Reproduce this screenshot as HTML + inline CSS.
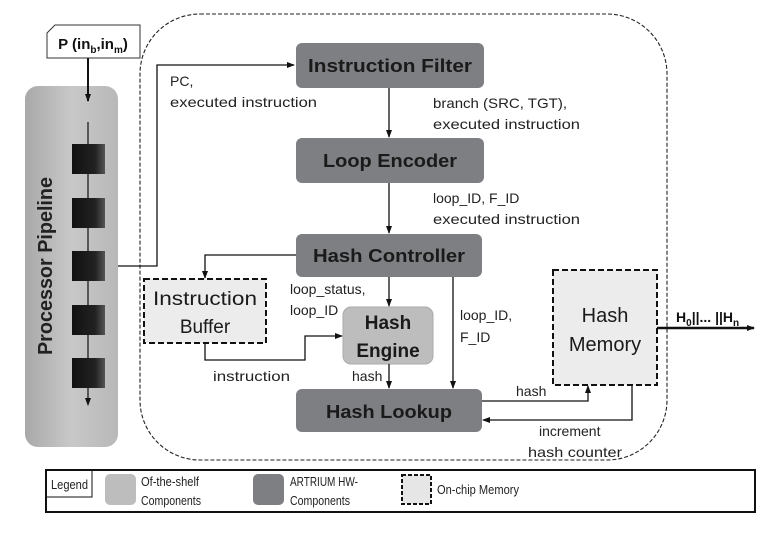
<!DOCTYPE html>
<html><head><meta charset="utf-8"><style>
html,body{margin:0;padding:0;background:#fff;}
svg{display:block;font-family:"Liberation Sans","DejaVu Sans",sans-serif;}
</style></head><body>
<svg width="775" height="536" viewBox="0 0 775 536" xmlns="http://www.w3.org/2000/svg">
<defs>
<marker id="a" markerWidth="8" markerHeight="8" refX="7" refY="4" orient="auto" markerUnits="userSpaceOnUse"><path d="M0,1 L8,4 L0,7 z" fill="#111"/></marker>
<linearGradient id="pg" x1="0" x2="1"><stop offset="0" stop-color="#a9a9a9"/><stop offset="0.5" stop-color="#c8c8c8"/><stop offset="1" stop-color="#b8b8b8"/></linearGradient>
<linearGradient id="sq" x1="0" x2="1"><stop offset="0" stop-color="#111"/><stop offset="0.7" stop-color="#222"/><stop offset="1" stop-color="#555"/></linearGradient>
</defs>
<rect x="140" y="14" width="527" height="446" rx="60" fill="none" stroke="#222" stroke-width="1.1" stroke-dasharray="4,2"/>
<rect x="25" y="86" width="93" height="361" rx="13" fill="url(#pg)"/>
<text transform="translate(52,266) rotate(-90)" text-anchor="middle" font-size="20" font-weight="bold" fill="#222" textLength="178" lengthAdjust="spacingAndGlyphs">Processor Pipeline</text>
<line x1="88" y1="122" x2="88" y2="405" stroke="#111" stroke-width="1.2" marker-end="url(#a)"/>
<rect x="72" y="144" width="33" height="30" fill="url(#sq)"/>
<rect x="72" y="198" width="33" height="30" fill="url(#sq)"/>
<rect x="72" y="251" width="33" height="30" fill="url(#sq)"/>
<rect x="72" y="305" width="33" height="30" fill="url(#sq)"/>
<rect x="72" y="358" width="33" height="30" fill="url(#sq)"/>
<path d="M47,33 L55,25 L140,25 L140,58 L47,58 z" fill="#fff" stroke="#333" stroke-width="1"/>
<text x="93" y="49" text-anchor="middle" font-size="15" font-weight="bold" fill="#111">P (in<tspan font-size="10" dy="4">b</tspan><tspan dy="-4">,in</tspan><tspan font-size="10" dy="4">m</tspan><tspan dy="-4">)</tspan></text>
<line x1="88" y1="58" x2="88" y2="101" stroke="#111" stroke-width="2" marker-end="url(#a)"/>
<polyline points="118,266 157,266 157,65 294,65" fill="none" stroke="#111" stroke-width="1.3" marker-end="url(#a)"/>
<text x="170" y="86" font-size="14" fill="#222">PC,</text>
<text x="170" y="107" font-size="14" fill="#222" textLength="147" lengthAdjust="spacingAndGlyphs">executed instruction</text>
<rect x="296" y="43" width="188" height="45" rx="6" fill="#7e7f83"/>
<text x="390" y="72" text-anchor="middle" font-size="18" font-weight="bold" fill="#1a1a1a" textLength="164" lengthAdjust="spacingAndGlyphs">Instruction Filter</text>
<rect x="296" y="138" width="188" height="45" rx="6" fill="#7e7f83"/>
<text x="390" y="167" text-anchor="middle" font-size="18" font-weight="bold" fill="#1a1a1a" textLength="134" lengthAdjust="spacingAndGlyphs">Loop Encoder</text>
<rect x="296" y="234" width="186" height="43" rx="6" fill="#7e7f83"/>
<text x="389" y="262" text-anchor="middle" font-size="18" font-weight="bold" fill="#1a1a1a" textLength="152" lengthAdjust="spacingAndGlyphs">Hash Controller</text>
<rect x="296" y="389" width="186" height="43" rx="6" fill="#7e7f83"/>
<text x="389" y="418" text-anchor="middle" font-size="18" font-weight="bold" fill="#1a1a1a" textLength="126" lengthAdjust="spacingAndGlyphs">Hash Lookup</text>
<rect x="343" y="307" width="90" height="57" rx="8" fill="#bdbdbd" stroke="#aaa"/>
<text x="388" y="329" text-anchor="middle" font-size="19" font-weight="bold" fill="#1a1a1a">Hash</text>
<text x="388" y="357" text-anchor="middle" font-size="19" font-weight="bold" fill="#1a1a1a">Engine</text>
<rect x="144" y="279" width="122" height="64" fill="#ececec" stroke="#111" stroke-width="2" stroke-dasharray="6,3"/>
<text x="205" y="305" text-anchor="middle" font-size="19" fill="#1a1a1a" textLength="104" lengthAdjust="spacingAndGlyphs">Instruction</text>
<text x="205" y="333" text-anchor="middle" font-size="19" fill="#1a1a1a">Buffer</text>
<rect x="553" y="270" width="104" height="115" fill="#ececec" stroke="#111" stroke-width="2" stroke-dasharray="6,3"/>
<text x="605" y="322" text-anchor="middle" font-size="20" fill="#1a1a1a">Hash</text>
<text x="605" y="351" text-anchor="middle" font-size="20" fill="#1a1a1a">Memory</text>
<line x1="389" y1="88" x2="389" y2="137" stroke="#111" stroke-width="1.3" marker-end="url(#a)"/>
<line x1="389" y1="183" x2="389" y2="233" stroke="#111" stroke-width="1.3" marker-end="url(#a)"/>
<text x="433" y="108" font-size="14" fill="#222" textLength="134" lengthAdjust="spacingAndGlyphs">branch (SRC, TGT),</text>
<text x="433" y="129" font-size="14" fill="#222" textLength="147" lengthAdjust="spacingAndGlyphs">executed instruction</text>
<text x="433" y="203" font-size="14" fill="#222">loop_ID, F_ID</text>
<text x="433" y="224" font-size="14" fill="#222" textLength="147" lengthAdjust="spacingAndGlyphs">executed instruction</text>
<polyline points="296,255 205,255 205,278" fill="none" stroke="#111" stroke-width="1.3" marker-end="url(#a)"/>
<line x1="389" y1="277" x2="389" y2="306" stroke="#111" stroke-width="1.3" marker-end="url(#a)"/>
<line x1="453" y1="277" x2="453" y2="388" stroke="#111" stroke-width="1.3" marker-end="url(#a)"/>
<text x="290" y="294" font-size="14" fill="#222">loop_status,</text>
<text x="290" y="315" font-size="14" fill="#222">loop_ID</text>
<text x="460" y="320" font-size="14" fill="#222">loop_ID,</text>
<text x="460" y="342" font-size="14" fill="#222">F_ID</text>
<polyline points="205,343 205,360 305,360 305,336 342,336" fill="none" stroke="#111" stroke-width="1.3" marker-end="url(#a)"/>
<text x="213" y="381" font-size="14" fill="#222" textLength="77" lengthAdjust="spacingAndGlyphs">instruction</text>
<line x1="389" y1="364" x2="389" y2="388" stroke="#111" stroke-width="1.3" marker-end="url(#a)"/>
<text x="352" y="381" font-size="14" fill="#222">hash</text>
<polyline points="482,401 588,401 588,386" fill="none" stroke="#111" stroke-width="1.3" marker-end="url(#a)"/>
<text x="516" y="396" font-size="14" fill="#222">hash</text>
<polyline points="632,386 632,420 483,420" fill="none" stroke="#111" stroke-width="1.3" marker-end="url(#a)"/>
<text x="539" y="436" font-size="14" fill="#222">increment</text>
<text x="528" y="457" font-size="14" fill="#222" textLength="94" lengthAdjust="spacingAndGlyphs">hash counter</text>
<line x1="657" y1="328" x2="754" y2="328" stroke="#111" stroke-width="2.5" marker-end="url(#a)"/>
<text x="676" y="322" font-size="14" font-weight="bold" fill="#111">H<tspan font-size="10" dy="4">0</tspan><tspan dy="-4">||... ||H</tspan><tspan font-size="10" dy="4">n</tspan></text>
<rect x="46" y="470" width="709" height="42" fill="#fff" stroke="#111" stroke-width="2"/>
<rect x="46" y="470" width="46" height="27" fill="none" stroke="#111" stroke-width="1"/>
<text x="51" y="489" font-size="13" fill="#222" textLength="37" lengthAdjust="spacingAndGlyphs">Legend</text>
<rect x="105" y="474" width="31" height="31" rx="5" fill="#bdbdbd"/>
<text x="141" y="486" font-size="13" fill="#222" textLength="58" lengthAdjust="spacingAndGlyphs">Of-the-shelf</text>
<text x="141" y="505" font-size="13" fill="#222" textLength="60" lengthAdjust="spacingAndGlyphs">Components</text>
<rect x="253" y="474" width="31" height="31" rx="5" fill="#7e7f83"/>
<text x="290" y="486" font-size="13" fill="#222" textLength="68" lengthAdjust="spacingAndGlyphs">ARTRIUM HW-</text>
<text x="290" y="505" font-size="13" fill="#222" textLength="60" lengthAdjust="spacingAndGlyphs">Components</text>
<rect x="402" y="475" width="29" height="29" fill="#e6e6e6" stroke="#111" stroke-width="2" stroke-dasharray="4,2"/>
<text x="437" y="494" font-size="13" fill="#222" textLength="82" lengthAdjust="spacingAndGlyphs">On-chip Memory</text>
</svg>
</body></html>
